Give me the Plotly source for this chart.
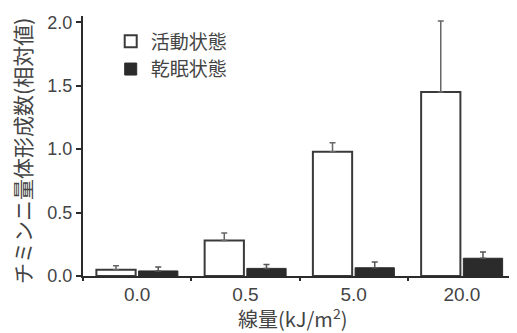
import plotly.graph_objects as go

categories = ["0.0", "0.5", "5.0", "20.0"]
active_values = [0.05, 0.28, 0.98, 1.45]
active_err = [0.03, 0.06, 0.07, 0.56]
dormant_values = [0.04, 0.06, 0.065, 0.14]
dormant_err = [0.03, 0.03, 0.045, 0.05]
y_ticks = [0.0, 0.5, 1.0, 1.5, 2.0]
y_tick_labels = ["0.0", "0.5", "1.0", "1.5", "2.0"]

font_fam = "Liberation Sans, Arial, Noto Sans CJK JP, sans-serif"
cjk = "Noto Sans CJK JP"
ink = "#444444"

fig = go.Figure()
fig.add_trace(go.Bar(
    x=categories, y=active_values, name="活動状態",
    marker=dict(color="white", line=dict(color="#3a3a3a", width=2)),
    error_y=dict(type="data", symmetric=False, array=active_err,
                 arrayminus=[0] * len(active_err),
                 color="#666666", thickness=1.5, width=3),
))
fig.add_trace(go.Bar(
    x=categories, y=dormant_values, name="乾眠状態",
    marker=dict(color="#2b2b2b", line=dict(color="#2b2b2b", width=1)),
    error_y=dict(type="data", symmetric=False, array=dormant_err,
                 arrayminus=[0] * len(dormant_err),
                 color="#555555", thickness=1.5, width=3),
))

# page body adds an 8px margin, so the figure is 8px smaller and offset
fig.update_layout(
    width=509, height=325,
    margin=dict(l=75, r=1, t=8, b=57, autoexpand=False),
    paper_bgcolor="white", plot_bgcolor="white",
    font=dict(family=font_fam, color=ink, size=18),
    barmode="group", bargap=0.22, bargroupgap=0.07,
    showlegend=True,
    legend=dict(x=0.064, y=0.975, xanchor="left", yanchor="top",
                font=dict(size=19, family=cjk, color=ink),
                bgcolor="rgba(0,0,0,0)", tracegroupgap=0, itemwidth=30),
    xaxis=dict(
        type="category", range=[-0.5, 3.5], automargin=False,
        showline=True, linecolor="#2b2b2b", linewidth=2,
        ticks="outside", tickson="boundaries", ticklen=3, tickwidth=2,
        tickcolor="#2b2b2b", showgrid=False,
        tickfont=dict(size=19, color=ink),
    ),
    yaxis=dict(
        range=[0, 2.05], tickvals=y_ticks, ticktext=y_tick_labels,
        automargin=False,
        showline=True, linecolor="#2b2b2b", linewidth=2,
        ticks="outside", ticklen=5, tickwidth=2, tickcolor="#2b2b2b",
        showgrid=False, zeroline=False,
        tickfont=dict(size=18, color=ink),
    ),
    annotations=[
        dict(text="チミンニ量体形成数(相対値)", textangle=-90,
             xref="paper", yref="paper", x=-0.141, y=0.481,
             xanchor="center", yanchor="middle", showarrow=False,
             font=dict(size=21, family=cjk, color=ink)),
        dict(text="線量(kJ/m<sup>2</sup>)",
             xref="paper", yref="paper", x=0.483, y=-0.1615,
             xanchor="center", yanchor="middle", showarrow=False,
             font=dict(size=20, family=cjk, color=ink)),
    ],
)

fig.write_html("out.html")
